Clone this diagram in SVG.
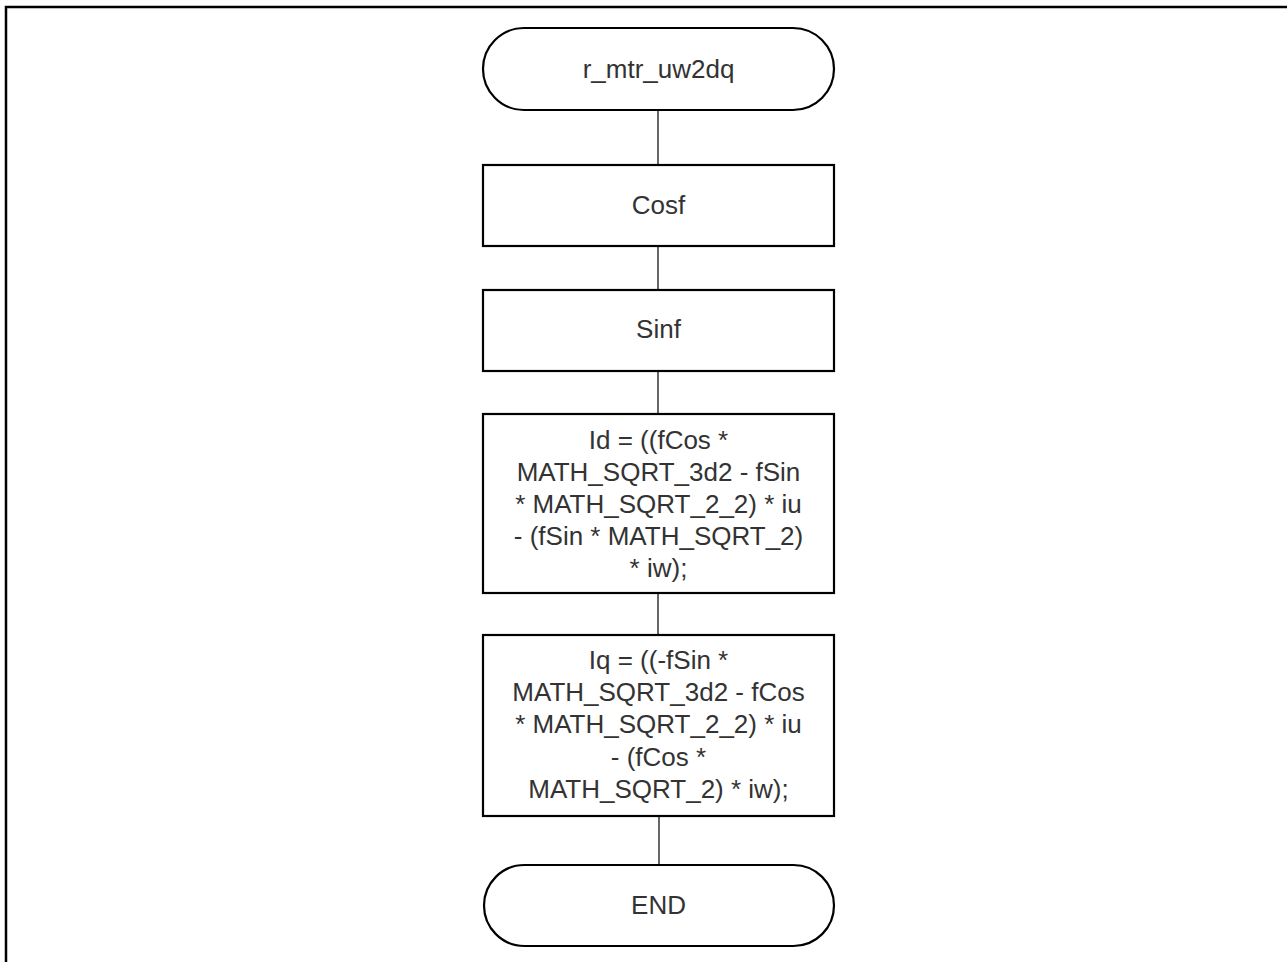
<svg xmlns="http://www.w3.org/2000/svg" width="1287" height="962" viewBox="0 0 1287 962">
<style>
.box{fill:#fff;stroke:#000;stroke-width:2.2}
.conn{stroke:#000;stroke-width:1.2;fill:none}
.t{font-family:"Liberation Sans",Arial,sans-serif;font-size:26px;fill:#333;text-anchor:middle;dominant-baseline:central}
</style>
<rect width="1287" height="962" fill="#fff"/>
<path d="M6,962 V7 H1287" fill="none" stroke="#000" stroke-width="2.5"/>
<g id="connectors">
<line class="conn" x1="658" y1="110" x2="658" y2="165"/>
<line class="conn" x1="658" y1="246" x2="658" y2="290"/>
<line class="conn" x1="658" y1="371" x2="658" y2="414"/>
<line class="conn" x1="658" y1="593" x2="658" y2="635"/>
<line class="conn" x1="659" y1="816" x2="659" y2="865"/>
</g>
<g id="start">
<rect class="box" x="483" y="28" width="351" height="82" rx="41" ry="41"/>
<text class="t" x="658.5" y="69">r_mtr_uw2dq</text>
</g>
<g id="cosf">
<rect class="box" x="483" y="165" width="351" height="81"/>
<text class="t" x="658.5" y="205">Cosf</text>
</g>
<g id="sinf">
<rect class="box" x="483" y="290" width="351" height="81"/>
<text class="t" x="658.5" y="329">Sinf</text>
</g>
<g id="id">
<rect class="box" x="483" y="414" width="351" height="179"/>
<text class="t" x="658.5" y="440">Id = ((fCos *</text>
<text class="t" x="658.5" y="472">MATH_SQRT_3d2 - fSin</text>
<text class="t" x="658.5" y="504">* MATH_SQRT_2_2) * iu</text>
<text class="t" x="658.5" y="536">- (fSin * MATH_SQRT_2)</text>
<text class="t" x="658.5" y="568">* iw);</text>
</g>
<g id="iq">
<rect class="box" x="483" y="635" width="351" height="181"/>
<text class="t" x="658.5" y="660">Iq = ((-fSin *</text>
<text class="t" x="658.5" y="692">MATH_SQRT_3d2 - fCos</text>
<text class="t" x="658.5" y="724">* MATH_SQRT_2_2) * iu</text>
<text class="t" x="658.5" y="757">- (fCos *</text>
<text class="t" x="658.5" y="789">MATH_SQRT_2) * iw);</text>
</g>
<g id="end">
<rect class="box" x="484" y="865" width="350" height="81" rx="40.5" ry="40.5"/>
<text class="t" x="658.5" y="905">END</text>
</g>
</svg>
